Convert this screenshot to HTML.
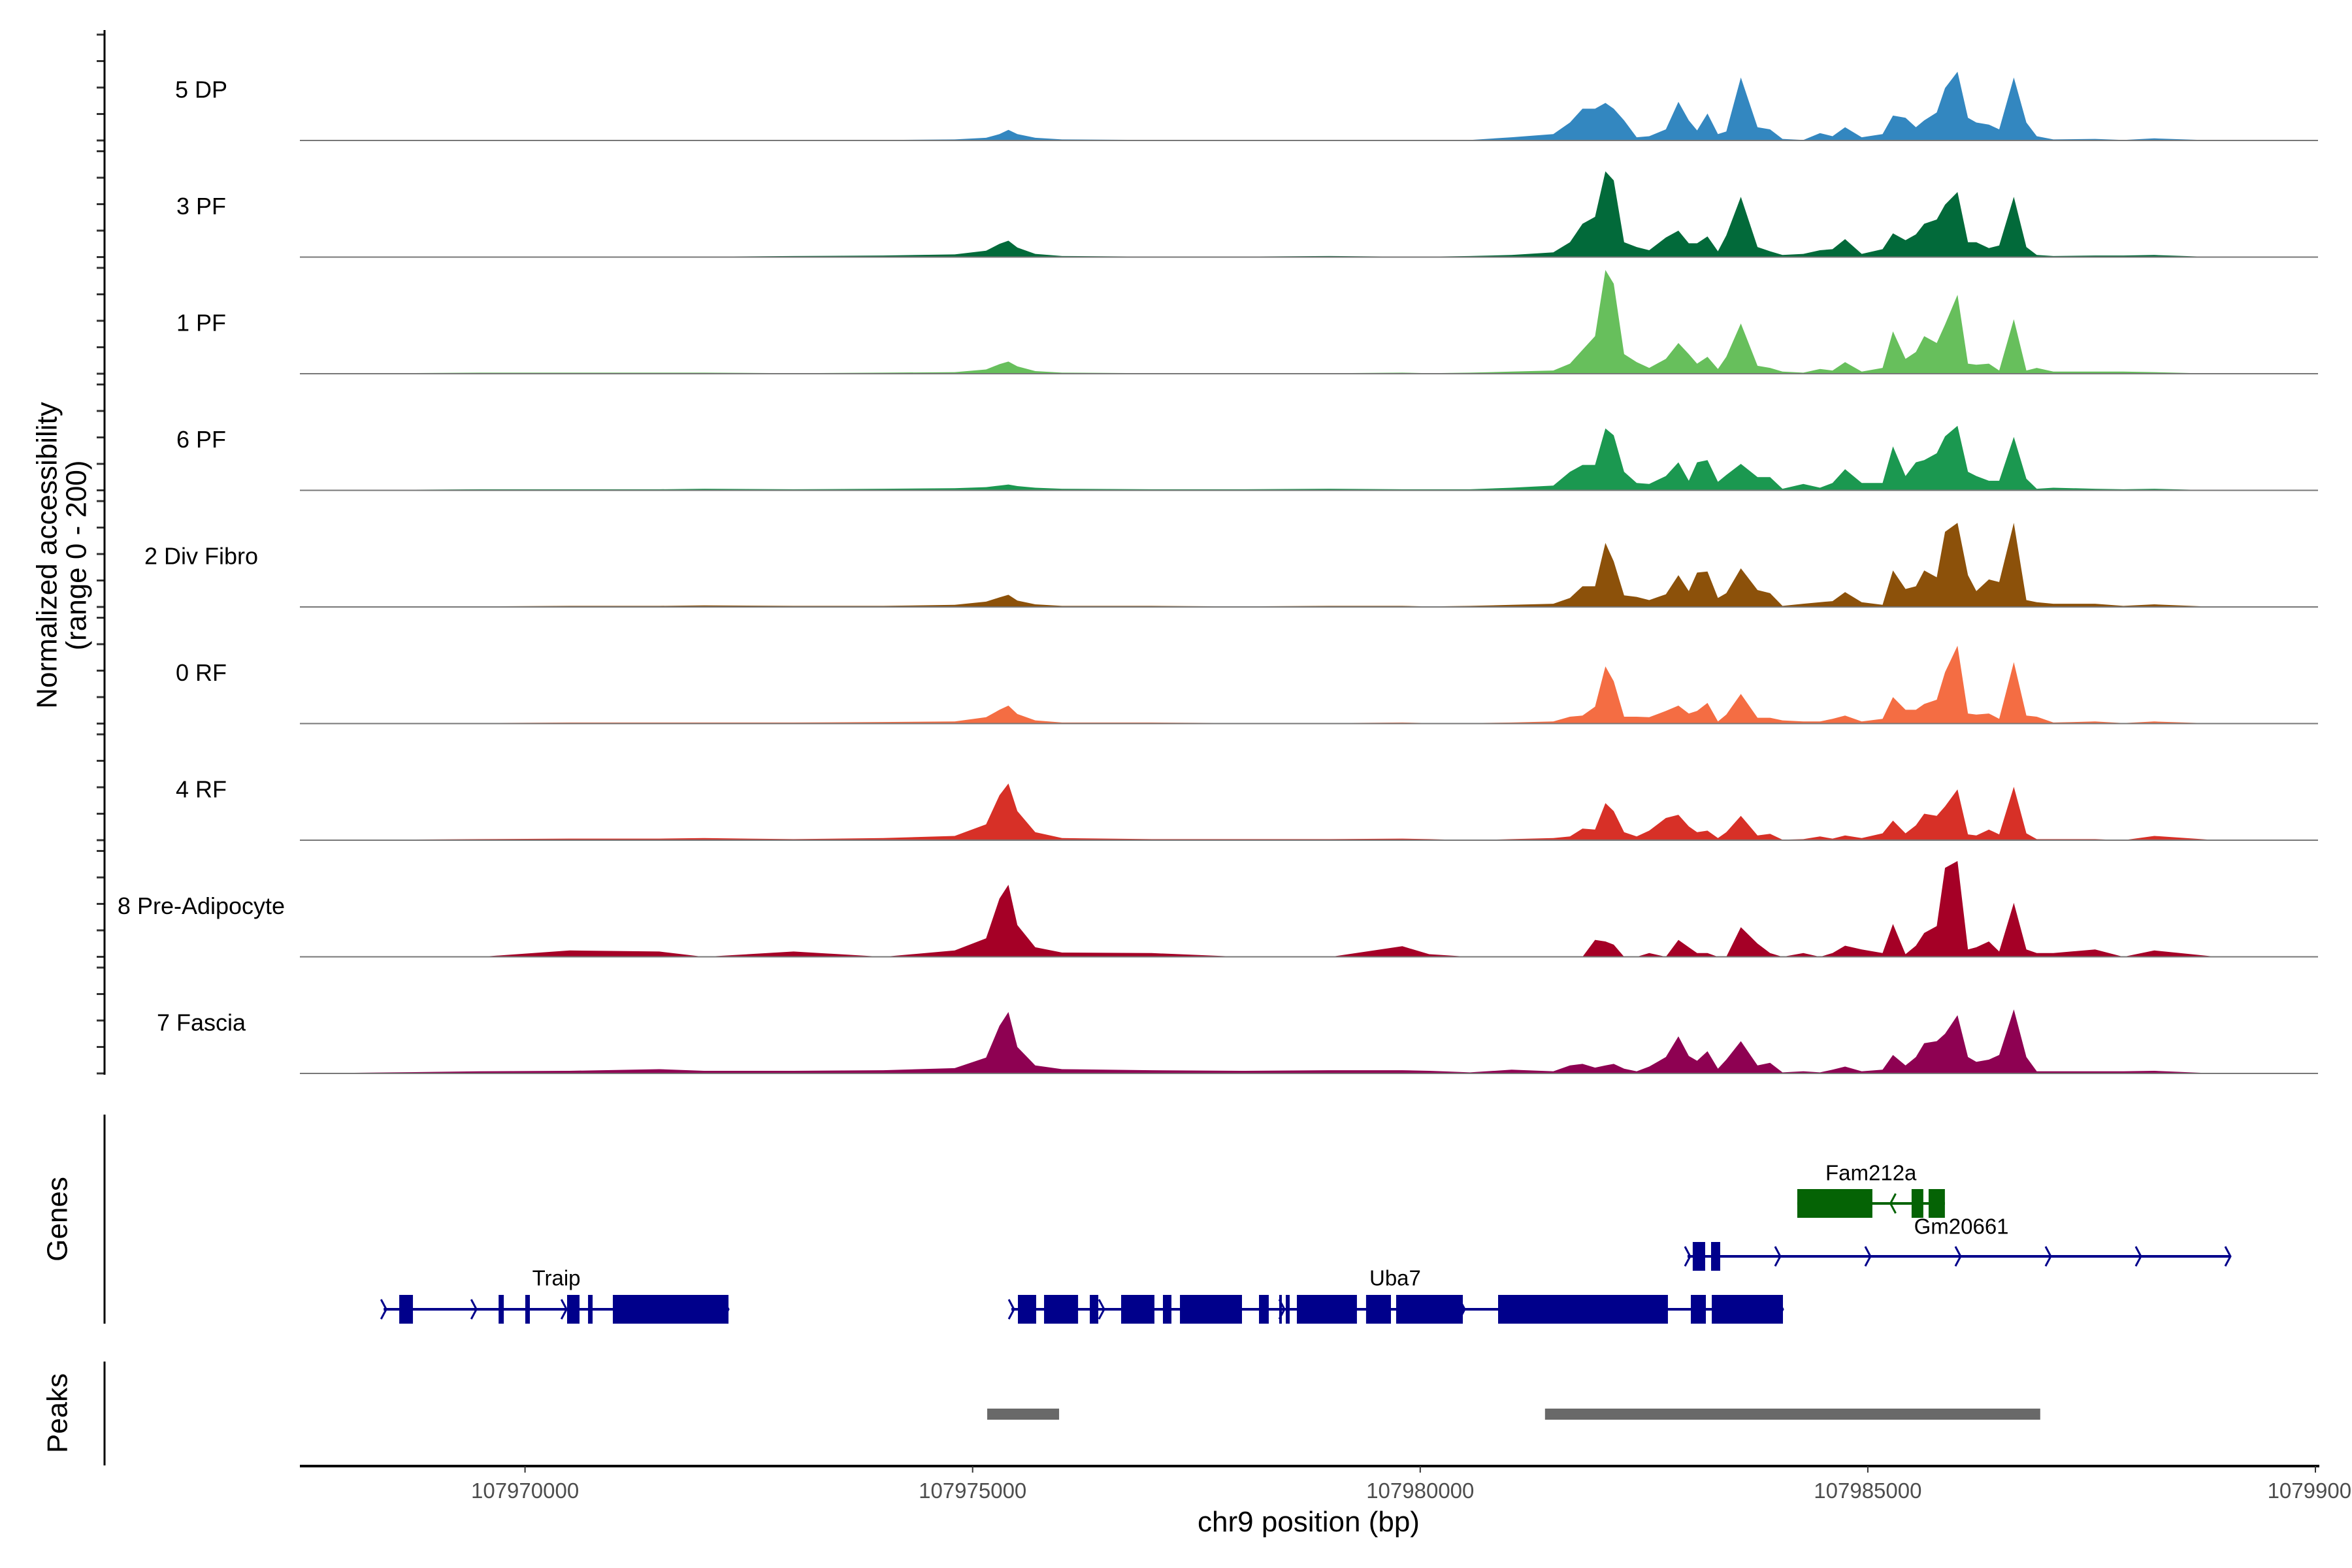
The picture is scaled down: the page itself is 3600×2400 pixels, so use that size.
<!DOCTYPE html>
<html><head><meta charset="utf-8"><style>
html,body{margin:0;padding:0;background:#fff;}
svg{display:block;font-family:"Liberation Sans",Arial,sans-serif;}
</style></head><body>
<svg id="chart" xmlns="http://www.w3.org/2000/svg" width="3600" height="2400" viewBox="0 0 3600 2400">
<rect width="3600" height="2400" fill="#fff"/>
<g id="tracks"></g>
<g id="ticksG"></g>
<text transform="translate(72,850) rotate(-90)" text-anchor="middle" font-size="44" dominant-baseline="central">Normalized accessibility</text>
<text transform="translate(117,850) rotate(-90)" text-anchor="middle" font-size="44" dominant-baseline="central">(range 0 - 200)</text>
<line x1="160" y1="1706" x2="160" y2="2026" stroke="#000" stroke-width="3"/>
<text transform="translate(88,1866) rotate(-90)" text-anchor="middle" font-size="44" dominant-baseline="central">Genes</text>
<line x1="160" y1="2084" x2="160" y2="2243" stroke="#000" stroke-width="3"/>
<text transform="translate(88,2163) rotate(-90)" text-anchor="middle" font-size="44" dominant-baseline="central">Peaks</text>
<g id="genesG"></g>
<g id="peaksG"></g>
<g id="xaxisG"></g>
<text x="2003" y="2344" text-anchor="middle" font-size="44">chr9 position (bp)</text>
</svg>
<script>
const NS="http://www.w3.org/2000/svg";
// ---- data ----
const trackNames=["5 DP","3 PF","1 PF","6 PF","2 Div Fibro","0 RF","4 RF","8 Pre-Adipocyte","7 Fascia"];
const trackColors=["#3387c0","#026a3a","#67bf5c","#1b9850","#8c510a","#f46d43","#d73027","#a50026","#8e0152"];
const positions=[107967485,107968500,107969500,107970500,107971500,107972000,107973000,107974000,107974800,107975150,107975300,107975400,107975500,107975700,107976000,107977000,107978000,107979000,107979800,107980100,
107980556,107981021,107981487,107981673,107981813,107981953,107982069,107982162,107982278,107982418,107982558,107982744,107982884,107983000,107983093,107983209,107983326,107983419,107983582,107983768,107983908,107984047,107984280,107984466,107984606,107984746,107984932,107985165,107985281,107985421,107985537,107985630,107985770,107985863,107986002,107986119,107986212,107986352,107986468,107986631,107986771,107986887,107987073,107987539,107987855,
107988200,107988900,107990030];
const values5DP=[0,0,1,1,1,1,1,1,2,5,12,20,12,5,2,1,1,1,1,1, 1,6,12,34,60,60,71,60,38,6,8,21,73,38,19,51,12,17,119,25,21,3,1,14,8,25,6,12,47,43,25,38,53,99,130,43,34,30,21,119,34,8,2,3,1, 4,0,0];
const values3PF=[0,1,1,1,1,1,2,3,5,12,25,31,18,6,2,1,1,2,1,1, 2,4,9,28,63,76,162,145,28,19,13,37,50,26,26,39,11,41,114,19,11,4,6,13,15,34,6,15,45,32,43,63,71,99,123,28,28,17,22,114,19,4,2,3,3, 4,0,0];
const values1PF=[0,1,2,2,2,2,1,2,3,8,18,23,14,5,2,1,1,1,2,1, 2,4,6,19,45,71,196,170,37,22,11,28,58,37,19,32,9,32,95,15,11,4,2,9,6,22,4,11,80,28,41,71,58,93,149,19,17,19,6,103,6,11,4,4,4, 3,0,0];
const values6PF=[0,1,2,2,2,3,2,3,4,6,9,11,8,5,3,2,2,3,2,2, 2,5,9,35,48,48,117,104,35,14,12,27,53,18,53,57,16,29,50,25,25,3,12,5,14,40,14,14,83,27,53,57,70,102,122,35,27,18,18,101,22,3,5,3,2, 3,0,0];
const valuesDivFibro=[0,1,1,2,2,3,2,2,4,10,18,23,12,5,2,2,1,2,2,1, 2,4,6,17,39,39,121,86,22,19,13,24,60,30,65,67,17,26,73,32,26,2,6,9,11,28,9,4,69,34,39,69,56,142,159,60,30,52,47,159,13,9,6,6,2, 5,0,0];
const values0RF=[0,1,1,2,2,2,2,3,4,12,26,34,18,6,2,2,1,1,2,1, 1,2,4,13,15,32,108,80,13,13,12,24,34,19,24,39,4,17,56,11,11,6,4,4,9,15,4,9,50,26,26,37,45,97,147,19,17,19,9,116,15,13,2,4,1, 4,0,0];
const values4RF=[0,1,2,3,3,4,2,4,8,30,85,107,55,15,4,2,2,2,3,2, 0,2,4,7,22,20,70,55,15,7,18,42,48,26,15,18,4,15,46,9,12,1,2,7,3,9,4,13,37,13,28,50,46,64,96,11,9,20,11,101,13,2,2,2,0, 8,0,0];
const valuesPreAdipo=[0,0,0,12,10,0,10,0,12,35,110,136,60,18,8,7,0,0,20,5, 0,0,0,0,0,32,29,23,0,0,7,0,32,18,7,7,0,0,56,25,7,0,7,0,7,21,14,7,62,5,21,45,58,168,181,14,18,29,10,102,14,7,7,14,0, 12,0,0];
const valuesFascia=[0,2,4,5,8,5,5,6,10,30,90,116,50,15,8,6,5,6,6,5, 2,7,4,15,18,11,15,18,9,4,13,31,70,33,24,42,9,26,61,15,20,2,4,2,7,13,4,7,35,15,31,57,61,75,110,31,22,26,35,121,31,4,4,4,4, 5,0,0];
const seriesValues=[values5DP,values3PF,values1PF,values6PF,valuesDivFibro,values0RF,values4RF,valuesPreAdipo,valuesFascia];
const xTickValues=[107970000,107975000,107980000,107985000,107990000];
const xTickLabels=["107970000","107975000","107980000","107985000","10799000"];
const yTickValues=[0,50,100,150,200];
const geneNames=["Traip","Uba7","Gm20661","Fam212a"];
const geneStarts=[107968421,107975433,107982986,107984212];
const geneEnds=[107972273,107984052,107989051,107985861];
const geneStrands=["+","+","+","-"];
const geneRows=[0,0,1,2];
const geneExons=[
 [[107968595,107968748],[107969705,107969763],[107970003,107970054],[107970470,107970609],[107970704,107970755],[107970981,107972273]],
 [[107975506,107975710],[107975798,107976178],[107976309,107976404],[107976659,107977031],[107977126,107977221],[107977316,107978009],[107978199,107978308],[107978425,107978454],[107978498,107978542],[107978622,107979293],[107979395,107979673],[107979731,107980476],[107980870,107982767],[107983023,107983191],[107983257,107984052]],
 [[107983044,107983183],[107983249,107983351]],
 [[107984212,107985051],[107985489,107985620],[107985679,107985861]]
];
const geneLabelPos=[107970350,107979720,107986045,107985035];
const geneLabelY=[1956,1956,1877,1795];
const peakStarts=[107975163,107981394];
const peakEnds=[107975966,107986926];
// ---- scales ----
const X0=803.6, KX=0.13702;
function xScale(bp){return X0+(bp-107970000)*KX;}
const BASE0=215, TRACK_STEP=178.5, TRACK_H=162;
function yScale(i,v){return BASE0+i*TRACK_STEP - v/200*TRACK_H;}
function mk(tag,attrs,parent){const e=document.createElementNS(NS,tag);for(const k in attrs)e.setAttribute(k,attrs[k]);parent.appendChild(e);return e;}
const tracks=document.getElementById('tracks');
const ticksG=document.getElementById('ticksG');
const xL=xScale(positions[0]), xR=3548;
for(let i=0;i<trackNames.length;i++){
  const vals=seriesValues[i];
  let d="M"+xScale(positions[0]).toFixed(1)+","+yScale(i,0);
  for(let j=0;j<positions.length;j++){d+=" L"+xScale(positions[j]).toFixed(1)+","+yScale(i,vals[j]).toFixed(1);}
  d+=" L"+xScale(positions[positions.length-1]).toFixed(1)+","+yScale(i,0)+" Z";
  const p=mk('path',{d:d,fill:trackColors[i]},tracks);
  
  
  const bl=mk('line',{x1:xL,x2:xR,y1:yScale(i,0),y2:yScale(i,0),stroke:'#777','stroke-width':2},tracks);
  
  
  const t=mk('text',{x:308,y:yScale(i,0)-78,'text-anchor':'middle','font-size':36,'dominant-baseline':'central'},tracks);
  t.textContent=trackNames[i];
  
  
  for(const v of yTickValues){
    const tk=mk('line',{x1:148,x2:160,y1:yScale(i,v),y2:yScale(i,v),stroke:'#333','stroke-width':3},ticksG);
    
    
  }
}
const yl=mk('line',{x1:160,x2:160,y1:46,y2:1645,stroke:'#000','stroke-width':3},ticksG);


// genes
const genesG=document.getElementById('genesG');
const rowY=[2004,1923,1842], exH=22;
function chevron(x,y,dir,col,parent){
  const s=dir==="+"?1:-1;
  const c=mk('polyline',{points:(x-6*s)+","+(y-15)+" "+(x+2*s)+","+y+" "+(x-6*s)+","+(y+15),fill:'none',stroke:col,'stroke-width':3},parent);
  
  
}
for(let g=0;g<geneNames.length;g++){
  const col=geneStrands[g]==="+"?"#00008b":"#056305";
  const y=rowY[geneRows[g]];
  const x1=xScale(geneStarts[g]), x2=xScale(geneEnds[g]);
  const ln=mk('line',{x1:x1,x2:x2,y1:y,y2:y,stroke:col,'stroke-width':4},genesG);
  
  
  if(geneStrands[g]==="+"){
    for(let a=x1+2;a<x2-10;a+=138){chevron(a,y,"+",col,genesG);}
    chevron(x2-2,y,"+",col,genesG);
  } else {
    chevron(x1+(x2-x1)*0.64,y,"-",col,genesG);
  }
  for(const ex of geneExons[g]){
    const r=mk('rect',{x:xScale(ex[0]),y:y-exH,width:Math.max(3,xScale(ex[1])-xScale(ex[0])),height:exH*2,fill:col},genesG);
    
    
  }
  const lab=mk('text',{x:xScale(geneLabelPos[g]),y:geneLabelY[g],'text-anchor':'middle','font-size':33,'dominant-baseline':'central'},genesG);
  lab.textContent=geneNames[g];
  
  
}
// peaks
const peaksG=document.getElementById('peaksG');
for(let k=0;k<peakStarts.length;k++){
  const r=mk('rect',{x:xScale(peakStarts[k]),y:2156,width:xScale(peakEnds[k])-xScale(peakStarts[k]),height:17,fill:'#696969'},peaksG);
  
  
}
// x axis
const xg=document.getElementById('xaxisG');
const xl=mk('line',{x1:459,x2:3550,y1:2244,y2:2244,stroke:'#000','stroke-width':4},xg);


for(let k=0;k<xTickValues.length;k++){
  const x=xScale(xTickValues[k]);
  const tk=mk('line',{x1:x,x2:x,y1:2244,y2:2254,stroke:'#333','stroke-width':2},xg);
  
  
  const t=mk('text',{x:x,y:2293,'text-anchor':'middle','font-size':33,fill:'#4d4d4d'},xg);
  t.textContent=xTickLabels[k];
  
  
}
</script>
</body></html>
